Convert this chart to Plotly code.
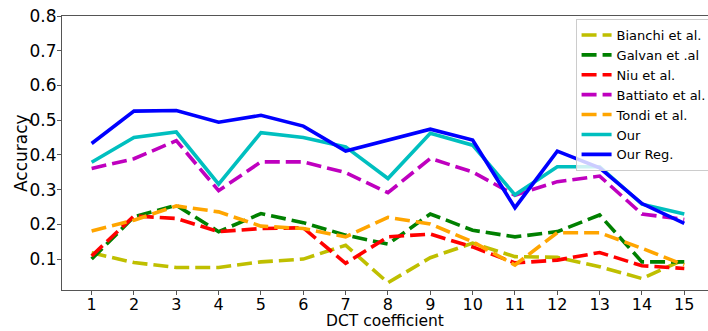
import plotly.graph_objects as go

# DCT coefficient index on the x axis
coefficients = list(range(1, 16))
tick_labels = [str(c) for c in coefficients]
y_ticks = [0.1, 0.2, 0.3, 0.4, 0.5, 0.6, 0.7, 0.8]
y_tick_labels = ["0.1", "0.2", "0.3", "0.4", "0.5", "0.6", "0.7", "0.8"]

# Accuracy per coefficient for each method
bianchi = [0.118, 0.090, 0.076, 0.076, 0.092, 0.100, 0.140, 0.032, 0.104, 0.146, 0.107, 0.105, 0.078, 0.044, 0.099]
galvan = [0.100, 0.222, 0.255, 0.179, 0.231, 0.205, 0.169, 0.143, 0.230, 0.183, 0.164, 0.179, 0.227, 0.092, 0.092]
niu = [0.109, 0.224, 0.217, 0.179, 0.188, 0.190, 0.088, 0.164, 0.172, 0.135, 0.089, 0.097, 0.119, 0.081, 0.073]
battiato = [0.361, 0.389, 0.441, 0.297, 0.380, 0.380, 0.349, 0.291, 0.390, 0.351, 0.284, 0.323, 0.339, 0.230, 0.214]
tondi = [0.181, 0.212, 0.253, 0.236, 0.195, 0.188, 0.164, 0.220, 0.201, 0.150, 0.083, 0.176, 0.176, 0.131, 0.083]
our = [0.379, 0.450, 0.466, 0.316, 0.464, 0.450, 0.423, 0.332, 0.462, 0.428, 0.285, 0.366, 0.366, 0.258, 0.230]
our_reg = [0.433, 0.526, 0.528, 0.494, 0.514, 0.483, 0.411, 0.443, 0.474, 0.443, 0.248, 0.411, 0.363, 0.260, 0.203]

series = [
    ("Bianchi et al.", bianchi, "#bfbf00", "15px,6px"),
    ("Galvan et .al", galvan, "#008000", "15px,6px"),
    ("Niu et al.", niu, "#ff0000", "15px,6px"),
    ("Battiato et al.", battiato, "#bf00bf", "15px,6px"),
    ("Tondi et al.", tondi, "#ffa500", "15px,6px"),
    ("Our", our, "#00bfbf", "solid"),
    ("Our Reg.", our_reg, "#0000ff", "solid"),
]

FONT = "DejaVu Sans"
AXIS_COLOR = "#555555"

fig = go.Figure()
for name, values, color, dash in series:
    fig.add_trace(go.Scatter(
        x=coefficients, y=values, mode="lines", name=name,
        line=dict(color=color, width=3.6, dash=dash),
    ))

fig.update_layout(
    width=708, height=331,
    margin=dict(l=62, r=0, t=16, b=41, autoexpand=False),
    paper_bgcolor="white", plot_bgcolor="white",
    font=dict(family=FONT, size=17, color="#000000"),
    showlegend=True,
    legend=dict(
        x=0.795, y=0.989, xanchor="left", yanchor="top",
        bgcolor="rgba(255,255,255,0.8)", bordercolor="#cccccc", borderwidth=1,
        font=dict(family=FONT, size=13, color="#000000"),
        itemwidth=30, tracegroupgap=0,
    ),
    annotations=[
        dict(text="Accuracy", textangle=-90, xref="paper", yref="paper",
             x=-0.0635, y=0.5, xanchor="center", yanchor="middle", showarrow=False,
             font=dict(family=FONT, size=17, color="#000000")),
        dict(text="DCT coefficient", xref="paper", yref="paper",
             x=0.5, y=-0.1496, xanchor="center", yanchor="bottom", showarrow=False,
             borderpad=0,
             font=dict(family=FONT, size=15.5, color="#000000")),
    ],
)

fig.update_xaxes(
    range=[0.3, 15.56], tickmode="array", tickvals=coefficients, ticktext=tick_labels,
    showgrid=False, zeroline=False,
    showline=True, mirror=True, linecolor=AXIS_COLOR, linewidth=1,
    ticks="outside", ticklen=4, tickcolor=AXIS_COLOR, ticklabelstandoff=-4,
    tickfont=dict(family=FONT, size=16),
)
fig.update_yaxes(
    range=[0.011, 0.8], tickmode="array", tickvals=y_ticks, ticktext=y_tick_labels,
    showgrid=False, zeroline=False,
    showline=True, mirror=False, linecolor=AXIS_COLOR, linewidth=1,
    ticks="outside", ticklen=4, tickcolor=AXIS_COLOR, ticklabelstandoff=-3,
    tickfont=dict(family=FONT, size=17),
)

fig.write_html("out.html")
